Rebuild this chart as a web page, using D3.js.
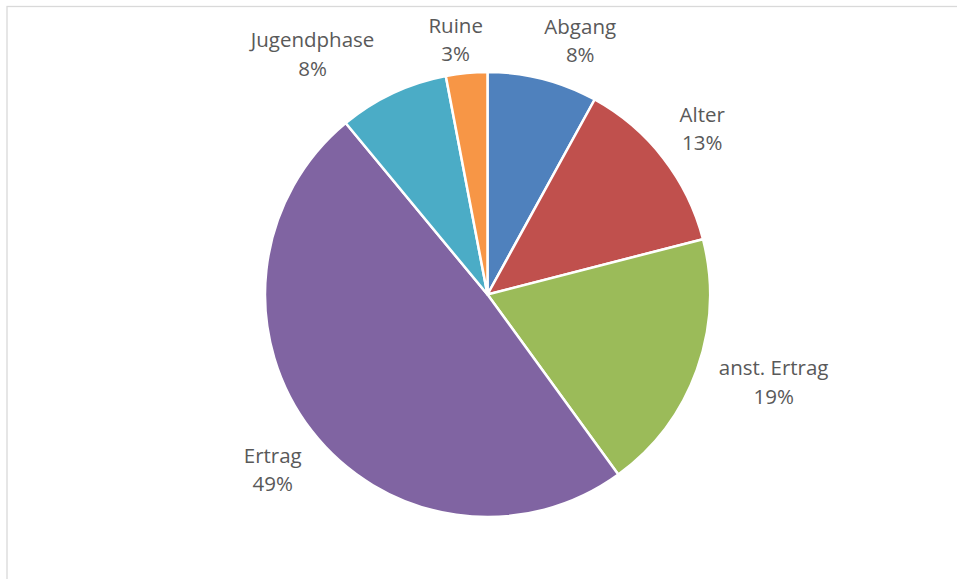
<!DOCTYPE html>
<html>
<head>
<meta charset="utf-8">
<script src="https://cdn.jsdelivr.net/npm/d3@7/dist/d3.min.js"></script>
<style>
  html, body { margin: 0; padding: 0; background: #ffffff; }
  svg { display: block; }
  text { font-family: "Open Sans", "DejaVu Sans", sans-serif; }
</style>
</head>
<body>
<svg id="chart" width="957" height="579"></svg>
<script>
// Lebensphasen – Anteile in Prozent
const categories = ["Abgang", "Alter", "anst. Ertrag", "Ertrag", "Jugendphase", "Ruine"];
const shares = [8, 13, 19, 49, 8, 3];
const colors = ["#4F81BD", "#C0504D", "#9BBB59", "#8064A2", "#4BACC6", "#F79646"];

// Label placement adjustments (px), so neighbouring labels do not collide
const labelNudge = {
  "Abgang": [25, -1],
  "Ruine": [-7, 5],
  "Jugendphase": [-48, -4],
  "Alter": [10, -6],
  "anst. Ertrag": [12, -1],
  "Ertrag": [-5, 15]
};

const W = 957, H = 579;
const cx = 487.5, cy = 294.5, R = 222.5;
const fontSize = 20.5, lineGap = 28.5, capH = fontSize * 0.714;

const svg = d3.select("#chart");

// chart area frame
svg.append("rect")
  .attr("x", 7).attr("y", 6.5)
  .attr("width", W + 20).attr("height", H + 20)
  .attr("fill", "none")
  .attr("stroke", "#d9d9d9")
  .attr("stroke-width", 1.3);

const data = categories.map((c, i) => ({ name: c, value: shares[i], color: colors[i] }));

const pie = d3.pie().sort(null).value(d => d.value);
const arcs = pie(data);

const arc = d3.arc().innerRadius(0).outerRadius(R);
const g = svg.append("g").attr("transform", `translate(${cx},${cy})`);

g.selectAll("path.slice")
  .data(arcs)
  .join("path")
  .attr("class", "slice")
  .attr("d", arc)
  .attr("fill", d => d.data.color)
  .attr("stroke", "#ffffff")
  .attr("stroke-width", 2.5)
  .attr("stroke-linejoin", "round");

// labels just outside the rim, offset outward by half the label box
const labelArc = d3.arc().innerRadius(R + 14).outerRadius(R + 14);
const fmt = d3.format(".0%");

const labels = g.selectAll("g.label")
  .data(arcs)
  .join("g")
  .attr("class", "label");

labels.each(function(d) {
  const sel = d3.select(this);
  const t1 = sel.append("text")
    .attr("text-anchor", "middle")
    .attr("font-size", fontSize)
    .attr("fill", "#595959")
    .text(d.data.name);
  const t2 = sel.append("text")
    .attr("text-anchor", "middle")
    .attr("font-size", fontSize)
    .attr("fill", "#595959")
    .text(fmt(d.data.value / 100));
  const w = Math.max(t1.node().getComputedTextLength(), t2.node().getComputedTextLength());
  const h = lineGap + capH + 6;
  const mid = (d.startAngle + d.endAngle) / 2;
  const [px, py] = labelArc.centroid(d);
  const nudge = labelNudge[d.data.name] || [0, 0];
  const bx = px + Math.sin(mid) * w / 2 + nudge[0];
  const by = py - Math.cos(mid) * h / 2 + nudge[1];
  const b1 = by - lineGap / 2 + capH / 2;
  t1.attr("x", bx).attr("y", b1);
  t2.attr("x", bx).attr("y", b1 + lineGap);
});
</script>
</body>
</html>
